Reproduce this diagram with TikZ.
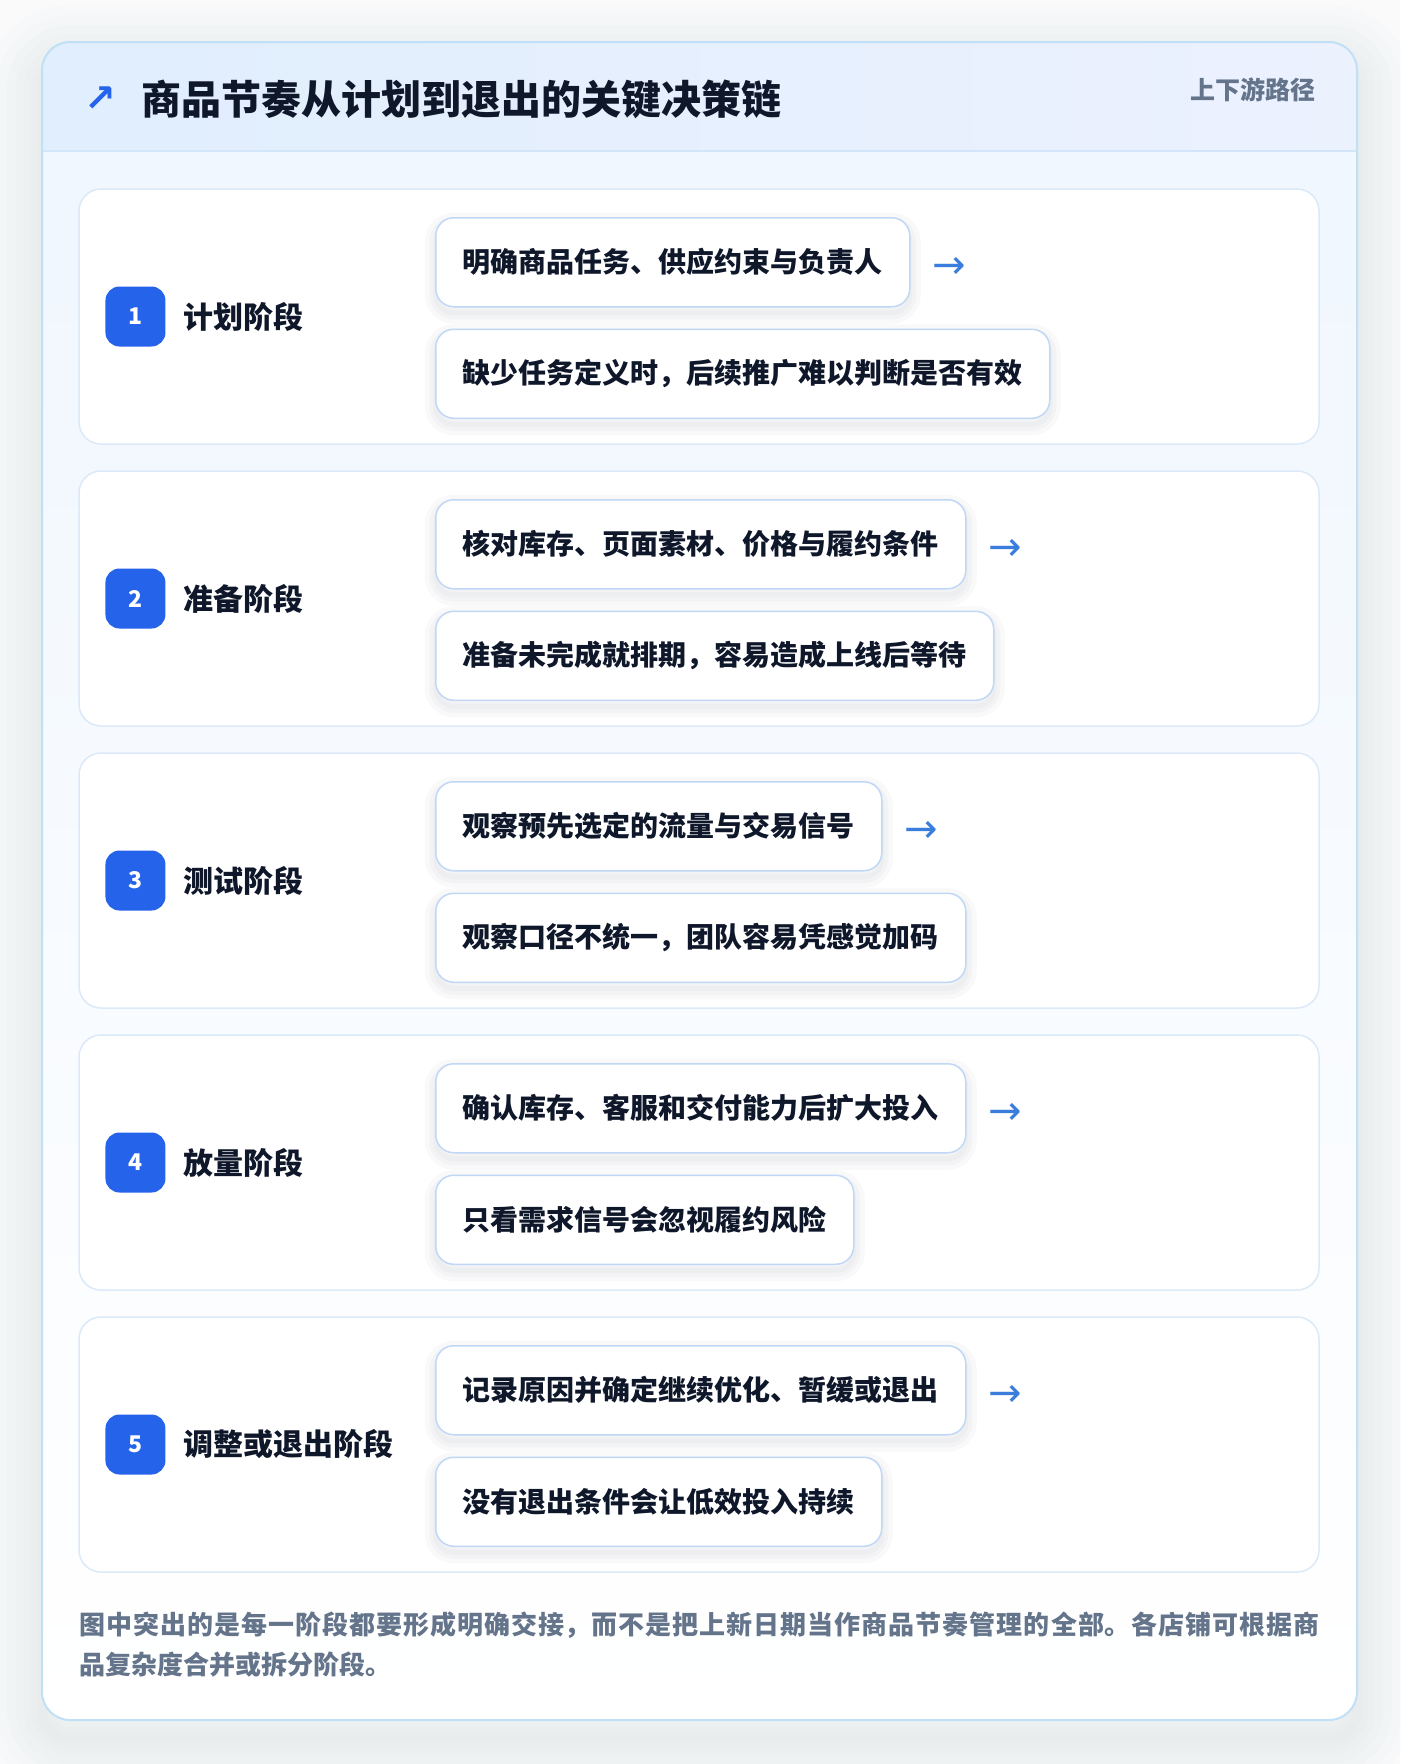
\documentclass[tikz,border=0pt]{standalone}
\usepackage{fontspec}
\setmainfont{Noto Sans CJK SC}
\newfontfamily\symfont{DejaVu Sans}
\usetikzlibrary{positioning}
\XeTeXlinebreaklocale "zh"
\XeTeXlinebreakskip=0pt plus 1pt

\definecolor{bgc}{HTML}{FAFAFB}
\definecolor{ink}{HTML}{0F172A}
\definecolor{muted}{HTML}{64748B}
\definecolor{shadowc}{HTML}{475569}
\definecolor{cardb}{HTML}{BFE0F6}
\definecolor{cardtop}{HTML}{EFF6FE}
\definecolor{headl}{HTML}{E0EEFD}
\definecolor{headr}{HTML}{ECF1FE}
\definecolor{headline}{HTML}{D3E5F8}
\definecolor{panelb}{HTML}{DCE9F8}
\definecolor{taskb}{HTML}{C0D8F5}
\definecolor{badge}{HTML}{2563EB}
\definecolor{arrowc}{HTML}{3B7DDD}

\tikzset{
  halo/.style={preaction={draw=shadowc, fill=none, draw opacity=#1, line width=22pt, transform canvas={yshift=-6pt}},
               preaction={draw=shadowc, fill=none, draw opacity=#1, line width=13pt, transform canvas={yshift=-6pt}},
               preaction={draw=shadowc, fill=none, draw opacity=#1, line width=5pt, transform canvas={yshift=-6pt}}},
  bighalo/.style={preaction={draw=shadowc, fill=none, draw opacity=0.011, line width=110pt, transform canvas={yshift=-18pt}},
                  preaction={draw=shadowc, fill=none, draw opacity=0.011, line width=90pt, transform canvas={yshift=-18pt}},
                  preaction={draw=shadowc, fill=none, draw opacity=0.011, line width=70pt, transform canvas={yshift=-18pt}},
                  preaction={draw=shadowc, fill=none, draw opacity=0.011, line width=52pt, transform canvas={yshift=-18pt}},
                  preaction={draw=shadowc, fill=none, draw opacity=0.011, line width=36pt, transform canvas={yshift=-18pt}},
                  preaction={draw=shadowc, fill=none, draw opacity=0.011, line width=22pt, transform canvas={yshift=-18pt}},
                  preaction={draw=shadowc, fill=none, draw opacity=0.011, line width=10pt, transform canvas={yshift=-18pt}}}
}

\begin{document}
\begin{tikzpicture}[x=1pt,y=-1pt,
  panel/.style={draw=panelb, fill=white, line width=1.5pt, rounded corners=22pt, minimum width=1240pt, minimum height=255pt, inner sep=0},
  num/.style={fill=badge, rounded corners=14pt, minimum size=60pt, inner sep=0, text=white, font=\fontsize{23}{23}\selectfont\bfseries},
  stage/.style={inner sep=0, text=ink, font=\fontsize{30}{30}\selectfont\bfseries},
  task/.style={halo=0.03, draw=taskb, fill=white, line width=1.5pt, rounded corners=18pt, minimum height=89pt, inner xsep=27pt, inner ysep=0, text=ink, font=\fontsize{28}{28}\selectfont\bfseries},
  arr/.style={inner sep=0, text=arrowc, font=\symfont\fontsize{40}{40}\selectfont}]

% page and card
\fill[bgc] (0,0) rectangle (1400,1764);
\path[bighalo, top color=cardtop, bottom color=white, rounded corners=28pt] (42,42) rectangle (1357,1720);
\begin{scope}
  \clip[rounded corners=28pt] (42,42) rectangle (1357,1720);
  \fill[left color=headl, right color=headr] (42,42) rectangle (1357,151);
\end{scope}
\draw[headline, line width=1.5pt] (42,151) -- (1357,151);
\draw[cardb, line width=2pt, rounded corners=28pt] (42,42) rectangle (1357,1720);

% header
\node[anchor=west, inner sep=0, text=ink, font=\fontsize{40}{40}\selectfont\bfseries] (title) at (141,99) {商品节奏从计划到退出的关键决策链};
\node[inner sep=0, text=badge, font=\symfont\bfseries\fontsize{38}{38}\selectfont, left=24pt of title] (icon) {↗};
\node[anchor=east, inner sep=0, text=muted, font=\fontsize{25}{25}\selectfont\bfseries] (tag) at (1316,90) {上下游路径};

% stage 1
\node[panel] (p1) at (699,316.5) {};
\node[num, right=27pt of p1.west] (n1) {1};
\node[stage, right=18pt of n1] (s1) {计划阶段};
\node[task, anchor=north west] (t1) at (435,217) {明确商品任务、供应约束与负责人};
\node[task, below=21pt of t1.south west, anchor=north west] (r1) {缺少任务定义时，后续推广难以判断是否有效};
\node[arr, right=22pt of t1, yshift=-6pt] (a1) {→};

% stage 2
\node[panel] (p2) at (699,598.5) {};
\node[num, right=27pt of p2.west] (n2) {2};
\node[stage, right=18pt of n2] (s2) {准备阶段};
\node[task, anchor=north west] (t2) at (435,499) {核对库存、页面素材、价格与履约条件};
\node[task, below=21pt of t2.south west, anchor=north west] (r2) {准备未完成就排期，容易造成上线后等待};
\node[arr, right=22pt of t2, yshift=-6pt] (a2) {→};

% stage 3
\node[panel] (p3) at (699,880.5) {};
\node[num, right=27pt of p3.west] (n3) {3};
\node[stage, right=18pt of n3] (s3) {测试阶段};
\node[task, anchor=north west] (t3) at (435,781) {观察预先选定的流量与交易信号};
\node[task, below=21pt of t3.south west, anchor=north west] (r3) {观察口径不统一，团队容易凭感觉加码};
\node[arr, right=22pt of t3, yshift=-6pt] (a3) {→};

% stage 4
\node[panel] (p4) at (699,1162.5) {};
\node[num, right=27pt of p4.west] (n4) {4};
\node[stage, right=18pt of n4] (s4) {放量阶段};
\node[task, anchor=north west] (t4) at (435,1063) {确认库存、客服和交付能力后扩大投入};
\node[task, below=21pt of t4.south west, anchor=north west] (r4) {只看需求信号会忽视履约风险};
\node[arr, right=22pt of t4, yshift=-6pt] (a4) {→};

% stage 5
\node[panel] (p5) at (699,1444.5) {};
\node[num, right=27pt of p5.west] (n5) {5};
\node[stage, right=18pt of n5] (s5) {调整或退出阶段};
\node[task, anchor=north west] (t5) at (435,1345) {记录原因并确定继续优化、暂缓或退出};
\node[task, below=21pt of t5.south west, anchor=north west] (r5) {没有退出条件会让低效投入持续};
\node[arr, right=22pt of t5, yshift=-6pt] (a5) {→};

% footnote
\node[anchor=north west, inner sep=0, text width=1240pt, align=justify, text=muted, font=\fontsize{26}{40}\selectfont\bfseries] (note) at (79,1612)
  {图中突出的是每一阶段都要形成明确交接，而不是把上新日期当作商品节奏管理的全部。各店铺可根据商\linebreak 品复杂度合并或拆分阶段。};
\end{tikzpicture}
\end{document}
